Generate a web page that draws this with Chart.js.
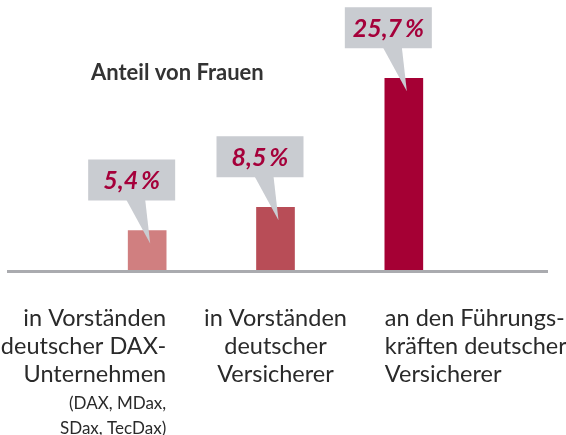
<!DOCTYPE html>
<html>
<head>
<meta charset="utf-8">
<script src="https://cdn.jsdelivr.net/npm/chart.js@4"></script>
<style>
  html, body { margin: 0; padding: 0; background: #fff; }
</style>
</head>
<body>
<canvas id="chart" width="566" height="435"></canvas>
<script>
var categories = ['DAX-Unternehmen', 'Versicherer Vorstand', 'Versicherer Führung'];
var values = [5.4, 8.5, 25.7];
var value_labels = ['5,4\u2009%', '8,5\u2009%', '25,7\u2009%'];
var bar_colors = ['#d07f80', '#b84d57', '#a50034'];
var label_lines = [
    ['in Vorständen', 'deutscher DAX-', 'Unternehmen'],
    ['in Vorständen', 'deutscher', 'Versicherer'],
    ['an den Führungs-', 'kräften deutscher', 'Versicherer']
];
var label_notes = [['(DAX, MDax,', 'SDax, TecDax)'], [], []];
var chart_title = 'Anteil von Frauen';

var FONT = 'Lato, "Open Sans", sans-serif';

var decor = {
    id: 'decor',
    afterDatasetsDraw: function (chart) {
        var ctx = chart.ctx;
        var meta = chart.getDatasetMeta(0);
        var base = chart.scales.y.getPixelForValue(0);

        ctx.save();
        // baseline
        ctx.fillStyle = '#aaabaf';
        ctx.fillRect(7, base - 1, 541, 3);

        // title
        ctx.fillStyle = '#333333';
        ctx.font = 'bold 22px ' + FONT;
        ctx.textBaseline = 'middle';
        ctx.textAlign = 'left';
        ctx.fillText(chart_title, 91, 73);

        meta.data.forEach(function (bar, i) {
            var bx = bar.x, by = bar.y;
            var w = 87, h = 41;
            var left = bx - 59;
            var top = by - 30 - h;
            ctx.fillStyle = '#c9ccd1';
            ctx.fillRect(left, top, w, h);
            ctx.beginPath();
            ctx.moveTo(left + 38, top + h - 1);
            ctx.lineTo(left + 57, top + h - 1);
            ctx.lineTo(bx + 3, by + 13);
            ctx.closePath();
            ctx.fill();

            ctx.fillStyle = '#a5003a';
            ctx.font = 'italic bold 25px ' + FONT;
            ctx.textAlign = 'center';
            ctx.textBaseline = 'middle';
            ctx.fillText(value_labels[i], left + w / 2, top + h / 2 + 1);

            // category labels
            var half = 19, x, align;
            if (i === 0) { x = bx + half; align = 'right'; }
            else if (i === 1) { x = bx; align = 'center'; }
            else { x = bx - half; align = 'left'; }
            ctx.textAlign = align;
            ctx.fillStyle = '#2a2a2a';
            ctx.font = '23.5px ' + FONT;
            label_lines[i].forEach(function (t, j) {
                ctx.fillText(t, x, 318 + j * 28);
            });
            ctx.font = '17px ' + FONT;
            label_notes[i].forEach(function (t, j) {
                ctx.fillText(t, x, 404 + j * 25);
            });
        });
        ctx.restore();
    }
};

new Chart(document.getElementById('chart'), {
    type: 'bar',
    data: {
        labels: categories,
        datasets: [{
            data: values,
            backgroundColor: bar_colors,
            barThickness: 38
        }]
    },
    options: {
        responsive: false,
        animation: false,
        maintainAspectRatio: false,
        layout: { padding: { left: 83, right: 98, top: 46, bottom: 164 } },
        plugins: {
            legend: { display: false },
            tooltip: { enabled: false }
        },
        scales: {
            x: { display: false },
            y: { display: false, min: 0, max: 30 }
        }
    },
    plugins: [decor]
});
</script>
</body>
</html>
